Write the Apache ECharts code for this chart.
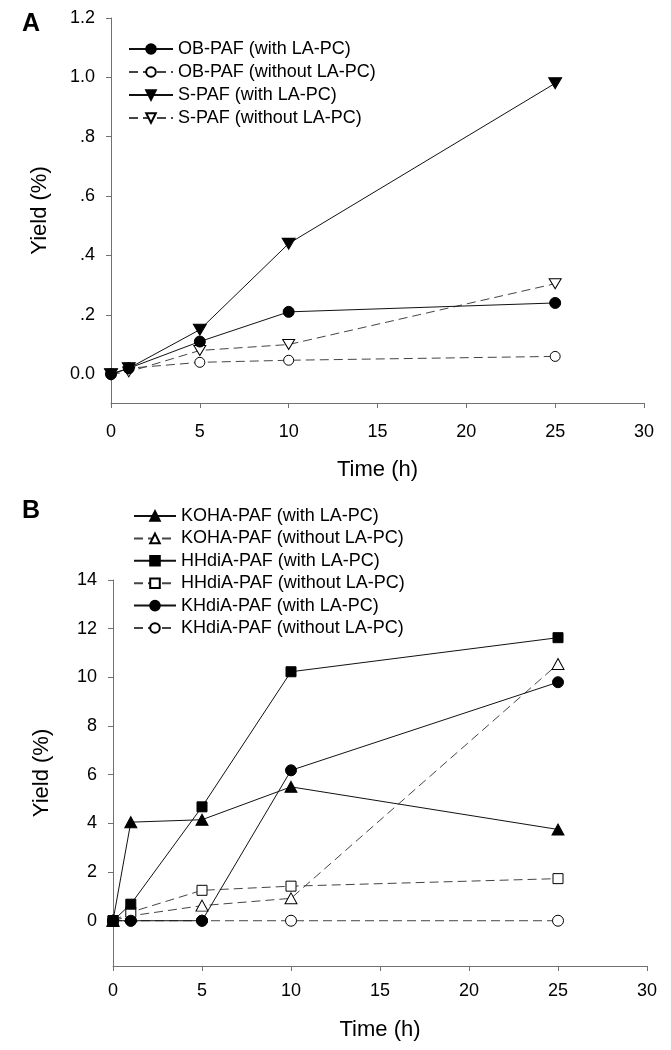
<!DOCTYPE html>
<html><head><meta charset="utf-8">
<script src="https://cdn.jsdelivr.net/npm/echarts@6/dist/echarts.min.js"></script>
<style>html,body{margin:0;padding:0;background:#fff}#c{width:671px;height:1050px}</style>
</head><body><div id="c"></div>
<script>
var time = [0, 1, 5, 10, 25];
// Panel A
var obWith = [0, 0.02, 0.11, 0.21, 0.24];
var obWithout = [0, 0.02, 0.04, 0.047, 0.06];
var sWith = [0, 0.02, 0.15, 0.44, 0.98];
var sWithout = [0, 0.008, 0.08, 0.10, 0.305];
// Panel B
var kohaWith = [0, 4.05, 4.15, 5.5, 3.75];
var kohaWithout = [0, 0.2, 0.62, 0.92, 10.55];
var hhWith = [0, 0.68, 4.68, 10.23, 11.63];
var hhWithout = [0, 0.35, 1.25, 1.42, 1.73];
var khWith = [0, 0, 0, 6.18, 9.8];
var khWithout = [0, 0, 0, 0, 0];
// Tick labels
var xTicks = [0, 5, 10, 15, 20, 25, 30];
var yTickValsA = [0, 0.2, 0.4, 0.6, 0.8, 1.0, 1.2];
var yTickLabelsA = ['0.0', '.2', '.4', '.6', '.8', '1.0', '1.2'];
var yTickValsB = [0, 2, 4, 6, 8, 10, 12, 14];
var yTickLabelsB = ['0', '2', '4', '6', '8', '10', '12', '14'];

function pairs(ys) { return time.map(function (t, i) { return [t, ys[i]]; }); }

var FONT = 'Liberation Sans, Arial, sans-serif';
var AX = '#707070';
var downTri = 'path://M0,0 L12,0 L6,10.4 Z';
var dash = [9, 5];

function ser(name, data, gi, symbol, size, filled, dashed, z) {
  return {
    name: name, type: 'line', xAxisIndex: gi, yAxisIndex: gi,
    data: pairs(data), symbol: symbol, symbolSize: size, z: z,
    showAllSymbol: true,
    lineStyle: { color: dashed ? '#444' : '#111', width: 1, type: dashed ? dash : 'solid' },
    itemStyle: { color: filled ? '#000' : '#fff', borderColor: '#000', borderWidth: 1 },
    emphasis: { disabled: true },
    animation: false
  };
}

function xAx(gi) {
  return {
    gridIndex: gi, type: 'value', min: 0, max: 30, interval: 5,
    name: 'Time (h)', nameLocation: 'middle', nameGap: gi === 0 ? 56 : 53,
    nameTextStyle: { fontFamily: FONT, fontSize: 22, color: '#000' },
    axisLine: { onZero: false, lineStyle: { color: AX, width: 1 } },
    axisTick: { show: true, length: 5, lineStyle: { color: AX } },
    axisLabel: { fontFamily: FONT, fontSize: 18, color: '#000', margin: gi === 0 ? 20 : 16 },
    splitLine: { show: false }
  };
}
function yAx(gi, min, max, vals, labels) {
  return {
    gridIndex: gi, type: 'value', min: min, max: max,
    name: 'Yield (%)', nameLocation: 'middle', nameGap: 60,
    nameTextStyle: { fontFamily: FONT, fontSize: 22, color: '#000' },
    axisLine: { show: true, onZero: false, lineStyle: { color: AX, width: 1 } },
    axisTick: { show: true, length: 5, customValues: vals, lineStyle: { color: AX } },
    axisLabel: {
      fontFamily: FONT, fontSize: 18, color: '#000', margin: 16, customValues: vals,
      formatter: function (v) {
        for (var i = 0; i < vals.length; i++) if (Math.abs(vals[i] - v) < 1e-9) return labels[i];
        return '';
      }
    },
    splitLine: { show: false }
  };
}

var legendText = { fontFamily: FONT, fontSize: 18, color: '#000', lineHeight: 18 };

var option = {
  animation: false,
  backgroundColor: '#fff',
  grid: [
    { left: 111, width: 533, top: 18, height: 385 },
    { left: 113, width: 534, top: 580, height: 386 }
  ],
  xAxis: [xAx(0), xAx(1)],
  yAxis: [yAx(0, -0.097, 1.2, yTickValsA, yTickLabelsA), yAx(1, -1.86, 14, yTickValsB, yTickLabelsB)],
  legend: [
    {
      orient: 'vertical', left: 123, top: 35, itemWidth: 44, itemHeight: 12, itemGap: 5,
      textStyle: legendText, selectedMode: false,
      data: ['OB-PAF (with LA-PC)', 'OB-PAF (without LA-PC)', 'S-PAF (with LA-PC)', 'S-PAF (without LA-PC)']
    },
    {
      orient: 'vertical', left: 128, top: 502, itemWidth: 42, itemHeight: 12, itemGap: 4.4,
      textStyle: legendText, selectedMode: false,
      data: ['KOHA-PAF (with LA-PC)', 'KOHA-PAF (without LA-PC)', 'HHdiA-PAF (with LA-PC)',
             'HHdiA-PAF (without LA-PC)', 'KHdiA-PAF (with LA-PC)', 'KHdiA-PAF (without LA-PC)']
    }
  ],
  graphic: [
    { type: 'text', left: 22, top: 12, style: { text: 'A', fontFamily: FONT, fontSize: 25, fontWeight: 'bold', fill: '#000' } },
    { type: 'text', left: 22, top: 499, style: { text: 'B', fontFamily: FONT, fontSize: 25, fontWeight: 'bold', fill: '#000' } }
  ],
  series: [
    ser('OB-PAF (with LA-PC)', obWith, 0, 'circle', 11, true, false, 4),
    ser('OB-PAF (without LA-PC)', obWithout, 0, 'circle', 10, false, true, 2),
    ser('S-PAF (with LA-PC)', sWith, 0, downTri, [13, 11], true, false, 3),
    ser('S-PAF (without LA-PC)', sWithout, 0, downTri, [12, 10], false, true, 1),
    ser('KOHA-PAF (with LA-PC)', kohaWith, 1, 'triangle', [12, 11], true, false, 4),
    ser('KOHA-PAF (without LA-PC)', kohaWithout, 1, 'triangle', [12, 11], false, true, 1),
    ser('HHdiA-PAF (with LA-PC)', hhWith, 1, 'rect', 10, true, false, 5),
    ser('HHdiA-PAF (without LA-PC)', hhWithout, 1, 'rect', 10, false, true, 2),
    ser('KHdiA-PAF (with LA-PC)', khWith, 1, 'circle', 11, true, false, 6),
    ser('KHdiA-PAF (without LA-PC)', khWithout, 1, 'circle', 11, false, true, 1)
  ]
};
var chart = echarts.init(document.getElementById('c'), null, { renderer: 'canvas' });
chart.setOption(option);
</script></body></html>
